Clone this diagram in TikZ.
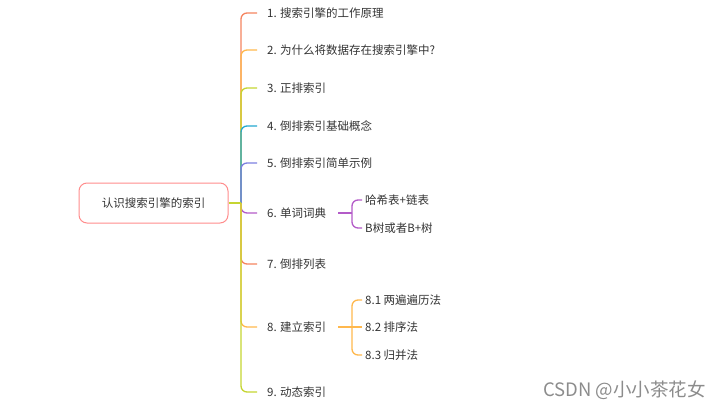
\documentclass[tikz,border=0pt]{standalone}
\usepackage{fontspec}
\setmainfont{Noto Sans CJK SC}
\begin{document}
\begin{tikzpicture}[x=1pt,y=-1pt,
  txt/.style={anchor=west,inner sep=1pt,text=black!80,font=\fontsize{11.5}{13}\selectfont},
  br/.style={line width=1.3pt,rounded corners=6pt},
  rootbox/.style={draw=red!45,fill=white,line width=1pt,rounded corners=8pt,minimum width=149pt,minimum height=40pt,text=black!80,font=\fontsize{11.5}{13}\selectfont}]
\definecolor{ca}{HTML}{F5845F}
\definecolor{cb}{HTML}{FFB84D}
\definecolor{cc}{HTML}{C5D531}
\definecolor{cd}{HTML}{24A8D0}
\definecolor{ce}{HTML}{7C7FE0}
\definecolor{cf}{HTML}{B35BC8}
\useasboundingbox (0,0) rectangle (720,409);
\node[rootbox] (root) at (153.5,203) {认识搜索引擎的索引};
\coordinate (trunk) at (241,203);
\node[txt] (n1) at (266,13) {1. 搜索引擎的工作原理};
\node[txt] (n2) at (266,50) {2. 为什么将数据存在搜索引擎中?};
\node[txt] (n3) at (266,88) {3. 正排索引};
\node[txt] (n4) at (266,126) {4. 倒排索引基础概念};
\node[txt] (n5) at (266,163) {5. 倒排索引简单示例};
\node[txt] (n6) at (266,213) {6. 单词词典};
\node[txt] (n7) at (266,264) {7. 倒排列表};
\node[txt] (n8) at (266,327) {8. 建立索引};
\node[txt] (n9) at (266,392) {9. 动态索引};
\node[txt] (s61) at (364,200) {哈希表+链表};
\node[txt] (s62) at (364,228) {B树或者B+树};
\node[txt] (s81) at (364,300) {8.1 两遍遍历法};
\node[txt] (s82) at (364,327) {8.2 排序法};
\node[txt] (s83) at (364,355) {8.3 归并法};
\draw[br,ca] (trunk) |- ([xshift=-9pt]n1.west);
\draw[br,cb] (trunk) |- ([xshift=-9pt]n2.west);
\draw[br,cc] (trunk) |- ([xshift=-9pt]n3.west);
\draw[br,cd] (trunk) |- ([xshift=-9pt]n4.west);
\draw[br,ce] (trunk) |- ([xshift=-9pt]n5.west);
\draw[br,cf] (trunk) |- ([xshift=-9pt]n6.west);
\draw[br,ca] (trunk) |- ([xshift=-9pt]n7.west);
\draw[br,cb] (trunk) |- ([xshift=-9pt]n8.west);
\draw[br,cc] (trunk) |- ([xshift=-9pt]n9.west);
\draw[br,cc] (root.east) -- (trunk);
\coordinate (j6) at (352,213);
\coordinate (j8) at (352,327);
\draw[br,cf] ([xshift=11pt]n6.east) -- (j6);
\draw[br,cf] (j6) |- ([xshift=-2pt]s61.west);
\draw[br,cf] (j6) |- ([xshift=-2pt]s62.west);
\draw[br,cb] ([xshift=11pt]n8.east) -- (j8);
\draw[br,cb] (j8) |- ([xshift=-2pt]s81.west);
\draw[br,cb] (j8) -- ([xshift=-2pt]s82.west);
\draw[br,cb] (j8) |- ([xshift=-2pt]s83.west);
\node[anchor=east,inner sep=0pt,text=black!45,font=\fontsize{18.5}{20}\selectfont] (wm) at (706,390) {CSDN @小小茶花女};
\end{tikzpicture}
\end{document}
